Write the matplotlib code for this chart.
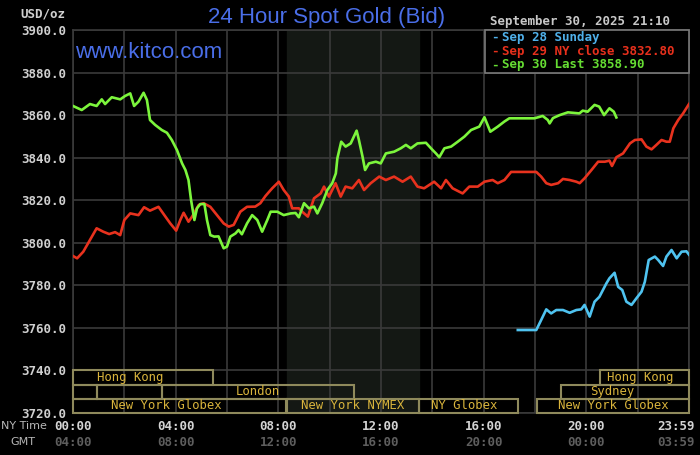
import matplotlib.pyplot as plt
from matplotlib.patches import Rectangle

# Sep 30 (last) - hours NY time, price
green_hours = [0, 0.34, 0.66, 0.92, 1.12, 1.25, 1.51, 1.84, 2.03, 2.23, 2.38, 2.55, 2.75, 2.88, 3.0,
               3.2, 3.46, 3.66, 3.85, 4.05, 4.25, 4.38, 4.5, 4.6, 4.73, 4.83, 4.96, 5.12, 5.22, 5.35,
               5.5, 5.67, 5.87, 6.0, 6.13, 6.33, 6.45, 6.58, 6.78, 6.98, 7.18, 7.37, 7.57, 7.7, 7.96,
               8.21, 8.48, 8.67, 8.8, 9.0, 9.19, 9.39, 9.52, 9.71, 9.91, 10.1, 10.24, 10.3, 10.45, 10.62,
               10.82, 11.05, 11.14, 11.28, 11.38, 11.53, 11.8, 11.99, 12.19, 12.51, 12.77, 12.97, 13.16,
               13.42, 13.75, 14.01, 14.14, 14.27, 14.47, 14.73, 14.99, 15.25, 15.51, 15.83, 16.03, 16.26,
               16.55, 16.81, 17.0, 17.45, 17.98, 18.3, 18.5, 18.57, 18.7, 18.96, 19.28, 19.73, 19.86,
               20.05, 20.32, 20.5, 20.69, 20.9, 21.07, 21.17]
green_prices = [3864.3, 3862.4, 3865.2, 3864.3, 3867.4, 3865.2, 3868.4, 3867.4, 3869.0, 3870.2,
                3864.3, 3866.3, 3870.5, 3867.1, 3857.7, 3855.4, 3853.0, 3851.7, 3848.3, 3843.6,
                3837.3, 3834.2, 3829.5, 3820.1, 3810.7, 3816.2, 3818.2, 3818.2, 3810.7, 3803.6,
                3802.9, 3803.0, 3797.4, 3798.2, 3802.9, 3804.4, 3806.0, 3804.0, 3809.1, 3813.0,
                3810.7, 3805.2, 3810.7, 3814.6, 3814.6, 3813.0, 3813.8, 3814.0, 3812.0, 3818.6,
                3816.2, 3817.0, 3813.8, 3818.6, 3824.8, 3828.0, 3832.6, 3839.7, 3847.5, 3845.2,
                3846.7, 3852.7, 3848.3, 3840.5, 3834.2, 3837.3, 3838.1, 3837.3, 3842.0, 3842.8,
                3844.4, 3846.0, 3844.4, 3846.7, 3847.0, 3843.6, 3842.0, 3840.2, 3844.4, 3845.2,
                3847.5, 3849.9, 3853.0, 3854.6, 3859.0, 3852.2, 3854.6, 3857.0, 3858.5, 3858.5,
                3858.5, 3859.6, 3857.7, 3856.1, 3858.6, 3860.0, 3861.3, 3860.8, 3862.1, 3861.6,
                3864.8, 3864.0, 3860.0, 3863.2, 3861.6, 3858.9]

# Sep 29 (NY close)
red_hours = [0, 0.16, 0.4, 0.66, 0.92, 1.18, 1.41, 1.64, 1.84, 2.0, 2.23, 2.55, 2.77, 3.0, 3.33,
             3.6, 3.79, 4.02, 4.18, 4.31, 4.5, 4.64, 4.9, 5.09, 5.35, 5.61, 5.87, 6.07, 6.26, 6.52,
             6.78, 7.1, 7.3, 7.5, 7.76, 8.02, 8.21, 8.41, 8.54, 8.8, 8.93, 9.15, 9.39, 9.65, 9.78,
             9.97, 10.23, 10.43, 10.62, 10.88, 11.14, 11.34, 11.6, 11.93, 12.19, 12.51, 12.84, 13.16,
             13.42, 13.68, 14.07, 14.34, 14.53, 14.79, 15.18, 15.44, 15.77, 16.03, 16.35, 16.55,
             16.81, 17.07, 18.05, 18.24, 18.44, 18.63, 18.9, 19.09, 19.35, 19.61, 19.74, 19.93, 20.2,
             20.46, 20.72, 20.9, 21.0, 21.17, 21.43, 21.7, 21.89, 22.15, 22.34, 22.54, 22.73, 22.93,
             23.12, 23.25, 23.39, 23.58, 23.77, 24.0]
red_prices = [3793.8, 3792.7, 3795.8, 3801.3, 3806.8, 3805.2, 3804.1, 3805.0, 3803.6, 3810.7,
              3813.8, 3813.0, 3816.7, 3815.1, 3816.9, 3812.3, 3809.1, 3805.7, 3810.7, 3814.1,
              3809.9, 3812.3, 3817.8, 3818.6, 3816.9, 3813.0, 3809.1, 3807.6, 3808.4, 3814.6,
              3816.9, 3817.0, 3818.6, 3822.0, 3825.6, 3828.7, 3824.8, 3821.7, 3816.2, 3816.2,
              3814.6, 3812.3, 3820.9, 3823.2, 3826.4, 3821.7, 3828.0, 3821.7, 3826.4, 3825.6,
              3829.5, 3824.8, 3828.0, 3831.1, 3829.5, 3831.1, 3828.7, 3831.1, 3826.4, 3825.6,
              3828.7, 3825.6, 3829.5, 3825.6, 3823.2, 3826.4, 3826.4, 3828.7, 3829.5, 3828.0,
              3829.5, 3833.3, 3833.3, 3831.1, 3828.0, 3827.2, 3828.0, 3830.0, 3829.5, 3828.7,
              3828.0, 3830.3, 3834.2, 3838.1, 3838.1, 3838.6, 3836.1, 3840.2, 3842.0, 3846.7,
              3848.3, 3848.6, 3845.2, 3843.9, 3846.0, 3848.3, 3847.5, 3847.5, 3853.8, 3857.7,
              3860.8, 3865.2]

# Sep 28 Sunday
blue_hours = [17.33, 18.05, 18.24, 18.44, 18.63, 18.83, 19.09, 19.35, 19.61, 19.8, 19.93, 20.13,
              20.32, 20.51, 20.78, 20.9, 21.1, 21.24, 21.4, 21.56, 21.76, 21.95, 22.15, 22.28,
              22.43, 22.67, 22.8, 22.99, 23.12, 23.32, 23.52, 23.71, 23.9, 24.0]
blue_prices = [3759.0, 3759.0, 3763.7, 3768.7, 3766.8, 3768.4, 3768.4, 3767.1, 3768.4, 3768.7,
               3770.8, 3765.3, 3772.3, 3774.6, 3780.9, 3783.3, 3785.9, 3779.3, 3777.8, 3772.3,
               3770.8, 3773.9, 3777.0, 3781.7, 3791.9, 3793.5, 3791.9, 3789.1, 3793.5, 3796.6,
               3792.7, 3795.8, 3796.0, 3794.4]

price_ticks = [3720, 3740, 3760, 3780, 3800, 3820, 3840, 3860, 3880, 3900]
ny_labels = ["00:00", "04:00", "08:00", "12:00", "16:00", "20:00", "23:59"]
gmt_labels = ["04:00", "08:00", "12:00", "16:00", "20:00", "00:00", "03:59"]
label_hours = [0, 4, 8, 12, 16, 20, 24]

# sessions: name, start, end, row (0 = top), label centre
sessions = [
    ("Hong Kong", 0, 5.47, 0, 2.23),
    ("Hong Kong", 20.55, 24, 0, 22.09),
    ("", 0, 0.95, 1, None),
    ("", 0.95, 3.48, 1, None),
    ("London", 3.48, 10.94, 1, 7.19),
    ("Sydney", 19.02, 24, 1, 21.02),
    ("New York Globex", 0, 8.28, 2, 3.63),
    ("New York NYMEX", 8.33, 13.5, 2, 10.9),
    ("NY Globex", 13.5, 17.34, 2, 15.23),
    ("New York Globex", 18.07, 24, 2, 21.05),
]

mono = "DejaVu Sans Mono"
W, H = 700, 455


def fx(x):
    return x / W


def fy(y):
    return 1 - y / H


fig = plt.figure(figsize=(7, 4.55), dpi=100, facecolor="black")
ax = fig.add_axes([fx(73), 42 / H, 616 / W, 383 / H])
ax.set_facecolor("black")
ax.set_xlim(0, 24)
ax.set_ylim(3720, 3900)

ax.axvspan(8.33, 13.5, color="#141814", zorder=0)
ax.set_xticks(range(0, 25, 2))
ax.set_yticks(price_ticks)
ax.set_xticklabels([])
ax.set_yticklabels([f"{v:.1f}" for v in price_ticks], family=mono, weight="bold",
                   fontsize=9, color="#d0d0d0")
ax.tick_params(length=0, pad=5)
ax.grid(True, color="#3a3a3a", lw=1.2, zorder=1)
for s in ax.spines.values():
    s.set_color("#3a3a3a")
    s.set_linewidth(1.2)

ax.plot(red_hours, red_prices, color="#e8321e", lw=1.9, zorder=3)
ax.plot(green_hours, green_prices, color="#7cf53c", lw=1.9, zorder=4)
ax.plot(blue_hours, blue_prices, color="#4fc3f0", lw=1.9, zorder=3)

# session boxes
row_h = 20 / 3
for name, start, end, row, lab in sessions:
    top = 3740 - row * row_h
    ax.add_patch(Rectangle((start, top - row_h), end - start, row_h, facecolor="none",
                           edgecolor="#8f8a5c", lw=1.5, zorder=5, clip_on=False))
    if name:
        ax.text(lab, top - row_h / 2, name, family=mono, fontsize=8.8, color="#d9b43c",
                ha="center", va="center", zorder=6)

# time labels
for h, ny, gmt in zip(label_hours, ny_labels, gmt_labels):
    x = fx(73 + h * 616 / 24)
    ha = "center"
    if h == 24:
        x = fx(695)
        ha = "right"
    fig.text(x, fy(426), ny, family=mono, weight="bold", fontsize=9, color="#d4d4d4",
             ha=ha, va="center")
    fig.text(x, fy(442), gmt, family=mono, weight="bold", fontsize=9, color="#5e5e5e",
             ha=ha, va="center")
fig.text(fx(1), fy(426), "NY Time", fontsize=8, color="#b8b8b8", ha="left", va="center")
fig.text(fx(10), fy(442), "GMT", fontsize=8, color="#b8b8b8", ha="left", va="center")

fig.text(fx(20), fy(14), "USD/oz", family=mono, weight="bold", fontsize=9, color="#d0d0d0",
         ha="left", va="center")
fig.text(fx(327), fy(17), "24 Hour Spot Gold (Bid)", family="Liberation Sans", fontsize=16,
         color="#4a6ee8", ha="center", va="center")
fig.text(fx(75), fy(53), "www.kitco.com", family="Liberation Sans", fontsize=16,
         color="#4a6ee8", ha="left", va="center", zorder=10)

# legend
fig.text(fx(490), fy(22), "September 30, 2025 21:10", family=mono, weight="bold", fontsize=9,
         color="#c8c8c8", ha="left", va="center")
fig.add_artist(Rectangle((fx(485), fy(73)), (689 - 485) / W, 43 / H, transform=fig.transFigure,
                         facecolor="black", edgecolor="#7a7a7a", lw=1.2, zorder=8))
legend_items = [("Sep 28 Sunday", "#4fb0ea", 37.5),
                ("Sep 29 NY close 3832.80", "#e8301c", 51),
                ("Sep 30 Last 3858.90", "#66dd33", 65)]
for txt, col, y in legend_items:
    fig.text(fx(495), fy(y), "-", family=mono, weight="bold", fontsize=9, color=col,
             ha="center", va="center", zorder=9)
    fig.text(fx(502), fy(y), txt, family=mono, weight="bold", fontsize=9, color=col,
             ha="left", va="center", zorder=9)

fig.savefig("out.png", dpi=100, facecolor="black")
